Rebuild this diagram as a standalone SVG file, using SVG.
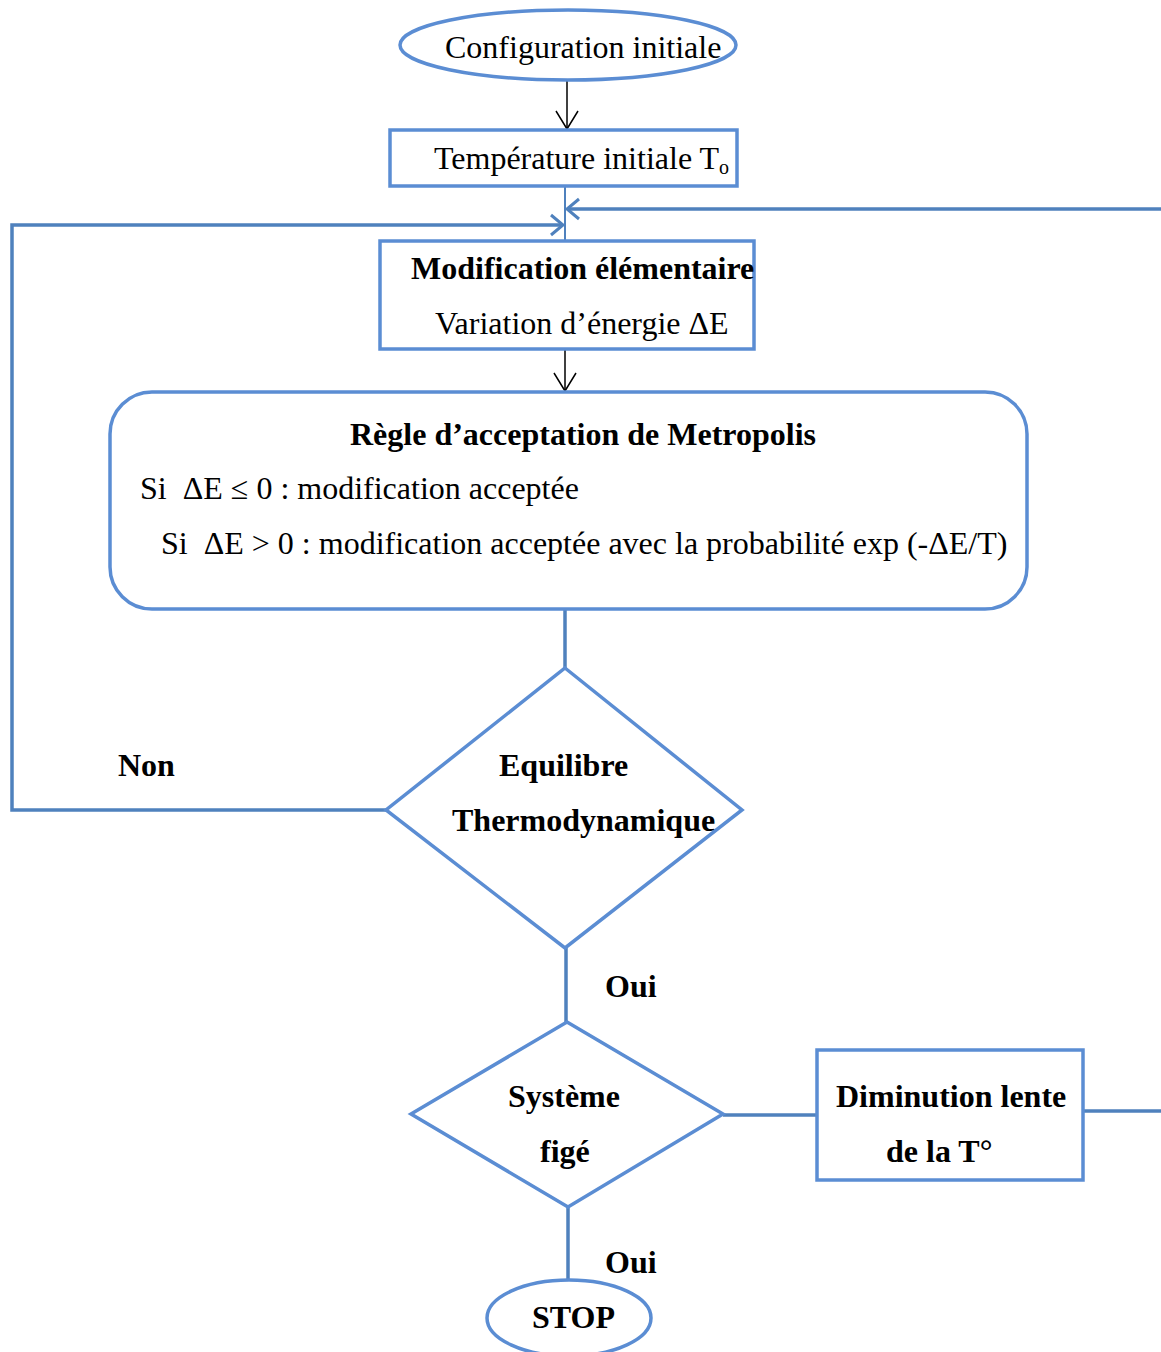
<svg xmlns="http://www.w3.org/2000/svg" width="1161" height="1352" viewBox="0 0 1161 1352">
<style>
.n{fill:#fff;stroke:#5B8DD3;stroke-width:3.5}
.c{fill:none;stroke:#4F81BD;stroke-width:3.5}
.k{fill:none;stroke:#000;stroke-width:1.5}
text{font-family:"Liberation Serif","Times New Roman",serif;font-size:32px;fill:#000}
.b{font-weight:bold}
</style>
<defs>
<marker id="ak" markerUnits="userSpaceOnUse" markerWidth="30" markerHeight="30" refX="20" refY="12" orient="auto" viewBox="0 0 30 30">
<path d="M2,1 L20,12 L2,23" fill="none" stroke="#000" stroke-width="1.5"/>
</marker>
<marker id="ab" markerUnits="userSpaceOnUse" markerWidth="30" markerHeight="30" refX="17" refY="12" orient="auto" viewBox="0 0 30 30">
<path d="M5,2 L17,12 L5,22" fill="none" stroke="#4F81BD" stroke-width="3"/>
</marker>
</defs>
<g id="connectors">
<line class="k" x1="567" y1="80" x2="567" y2="129" marker-end="url(#ak)"/>
<line class="c" x1="565" y1="187" x2="565" y2="241" style="stroke-width:2"/>
<polyline class="c" points="1161,209 567,209" marker-end="url(#ab)"/>
<polyline class="c" points="386,810 12,810 12,225 563,225" marker-end="url(#ab)"/>
<line class="k" x1="565" y1="349" x2="565" y2="391" marker-end="url(#ak)"/>
<line class="c" x1="565" y1="609" x2="565" y2="668"/>
<line class="c" x1="566" y1="948" x2="566" y2="1022"/>
<line class="c" x1="723" y1="1115" x2="816" y2="1115"/>
<line class="c" x1="1083" y1="1111" x2="1161" y2="1111"/>
<line class="c" x1="568" y1="1207" x2="568" y2="1280"/>
</g>
<g id="start">
<ellipse class="n" cx="568" cy="45" rx="168" ry="35"/>
<text x="445" y="58">Configuration initiale</text>
</g>
<g id="temp">
<rect class="n" x="390" y="130" width="347" height="56"/>
<text x="434" y="169">Température initiale T<tspan font-size="20" dy="5">o</tspan></text>
</g>
<g id="modif">
<rect class="n" x="380" y="241" width="374" height="108"/>
<text class="b" x="411" y="279">Modification élémentaire</text>
<text x="435" y="334">Variation d’énergie ΔE</text>
</g>
<g id="metropolis">
<rect class="n" x="110" y="392" width="917" height="217" rx="42" ry="42"/>
<text class="b" x="350" y="445">Règle d’acceptation de Metropolis</text>
<text x="140" y="499" xml:space="preserve">Si  ΔE ≤ 0 : modification acceptée</text>
<text x="161" y="554" xml:space="preserve">Si  ΔE &gt; 0 : modification acceptée avec la probabilité exp (-ΔE/T)</text>
</g>
<g id="equilibre">
<polygon class="n" points="565,668 742,810 565,948 386,810"/>
<text class="b" x="499" y="776">Equilibre</text>
<text class="b" x="452" y="831">Thermodynamique</text>
</g>
<g id="label-non"><text class="b" x="118" y="776">Non</text></g>
<g id="label-oui1"><text class="b" x="605" y="997">Oui</text></g>
<g id="fige">
<polygon class="n" points="567,1022 723,1114 568,1207 411,1114"/>
<text class="b" x="508" y="1107">Système</text>
<text class="b" x="540" y="1162">figé</text>
</g>
<g id="diminution">
<rect class="n" x="817" y="1050" width="266" height="130"/>
<text class="b" x="836" y="1107">Diminution lente</text>
<text class="b" x="886" y="1162">de la T°</text>
</g>
<g id="label-oui2"><text class="b" x="605" y="1273">Oui</text></g>
<g id="stop">
<ellipse class="n" cx="569" cy="1318" rx="82" ry="38"/>
<text class="b" x="532" y="1328">STOP</text>
</g>
</svg>
